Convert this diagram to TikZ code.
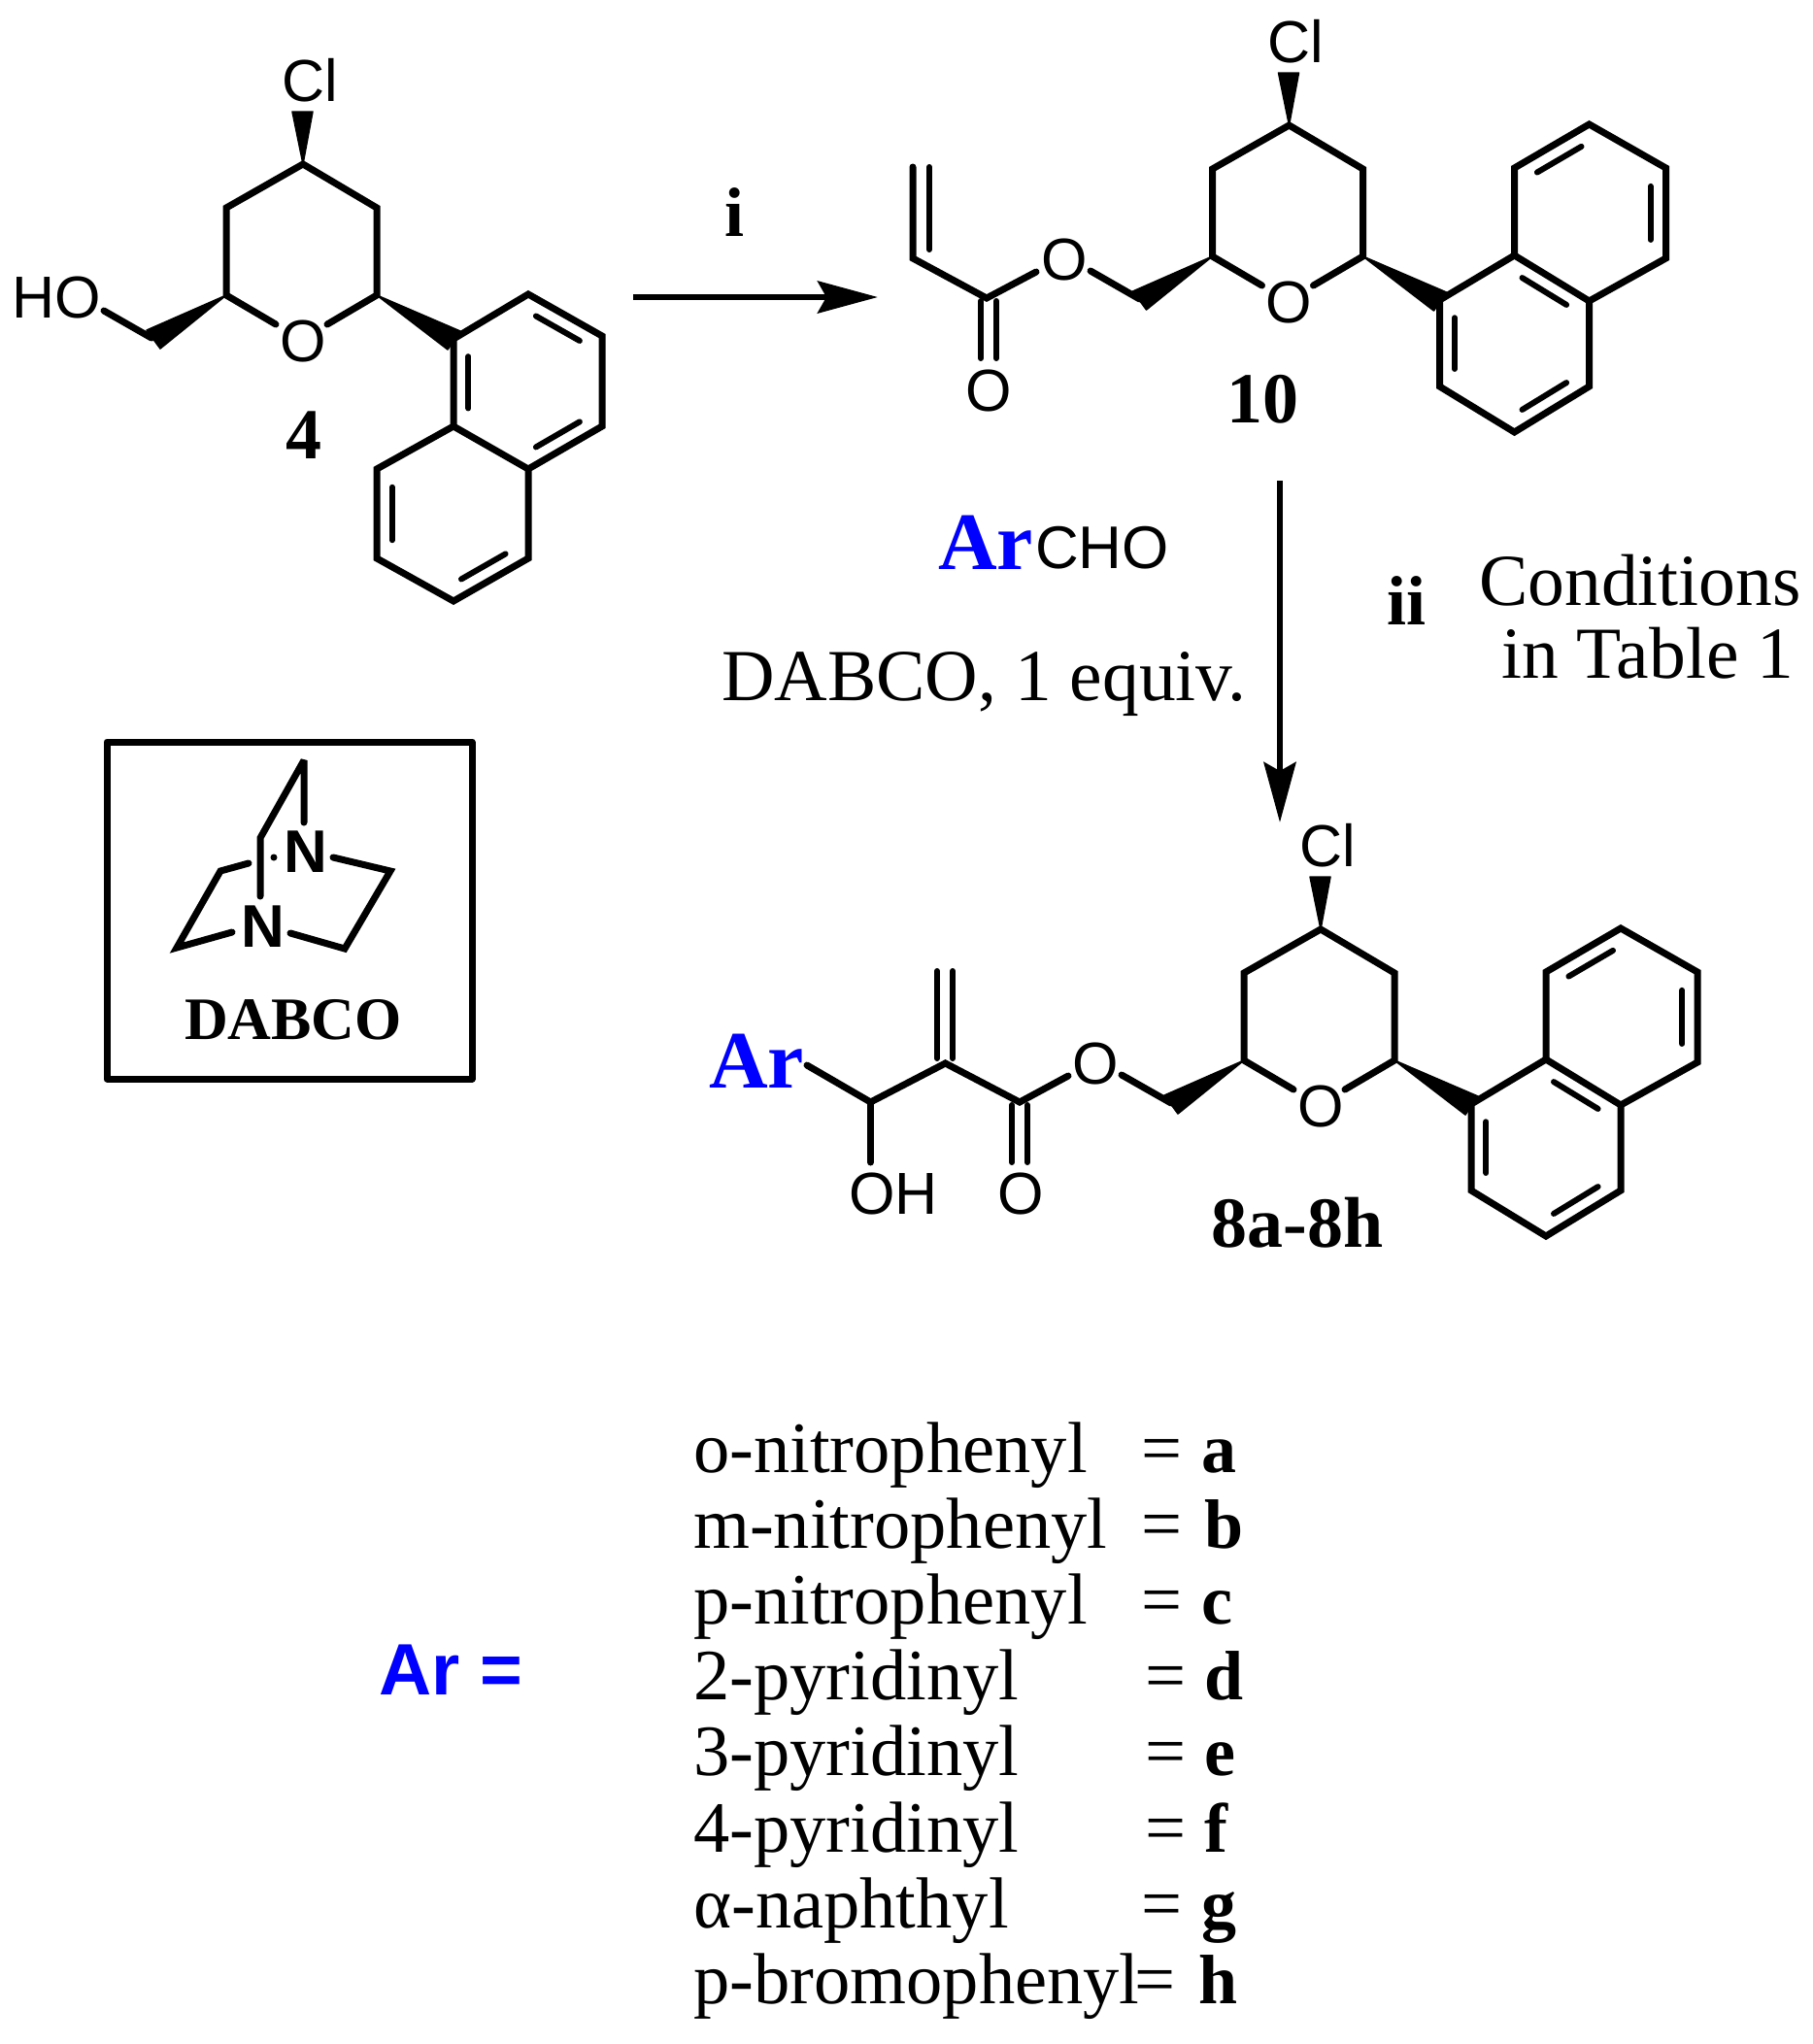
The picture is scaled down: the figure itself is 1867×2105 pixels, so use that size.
\documentclass[tikz,border=0pt]{standalone}
\usepackage{fontspec}
\setmainfont{Liberation Serif}
\setsansfont{Liberation Sans}
\usetikzlibrary{calc,arrows.meta}
\newcommand{\fs}[1]{\fontsize{#1}{#1}\selectfont}
\tikzset{
  bond/.style={line width=7pt,line cap=round,line join=miter,miter limit=3},
  thinbond/.style={line width=6pt,line cap=round},
  wedge/.style={fill=black,draw=black,line width=1.5pt,line join=round},
  atom/.style={inner sep=0pt,font=\sffamily\fs{61}},
  bbl/.style={inner sep=0pt,font=\bfseries\fs{74}},
  listt/.style={inner sep=0pt,anchor=base west,font=\fs{74.5}},
  listb/.style={inner sep=0pt,anchor=base west,font=\bfseries\fs{72}},
  arr/.style={line width=6.5pt,-{Stealth[length=62pt,width=33pt,inset=9pt]}},
  cond/.style={inner sep=0pt,anchor=base west,font=\fs{75.5}},
}
% inner line of a double bond: from a to b, moved toward ring centre c
\newcommand{\inb}[3]{\draw[thinbond] ($(#1)!0.13!(#2)!0.2!(#3)$) -- ($(#2)!0.13!(#1)!0.2!(#3)$);}
% tetrahydropyran ring with Cl, in local coordinates of compound 4
\newcommand{\pyran}[1]{%
  \coordinate (#1T) at (312,169);
  \coordinate (#1A) at (233,214);
  \coordinate (#1B) at (388,214);
  \coordinate (#1C) at (233,304);
  \coordinate (#1D) at (388,304);
  \coordinate (#1e) at (284,334);
  \coordinate (#1f) at (337,334);
  \node[atom] (#1Cl) at (319,83) {Cl};
  \node[atom] (#1O) at (312,351) {O};
  \draw[bond] (#1e) -- (#1C) -- (#1A) -- (#1T) -- (#1B) -- (#1D) -- (#1f);
  \fill[wedge] (#1T) -- (301,115) -- (322,115) -- cycle;
}
\begin{document}
\begin{tikzpicture}[x=1pt,y=-1pt]
\useasboundingbox (0,0) rectangle (1867,2105);
%% ---------- compound 4
\pyran{a}
\coordinate (aH) at (156,348);
\node[atom] (aHO) at (58,306) {HO};
\coordinate (aHe) at (107,320);
\draw[bond] (aHe) -- (aH);
\fill[wedge] (aC) -- (151,340) -- (165,359) -- cycle;
\coordinate (n1) at (467,349);
\coordinate (n2) at (544,303);
\coordinate (n3) at (620,346);
\coordinate (n4) at (620,439);
\coordinate (n4a) at (544,483);
\coordinate (n8a) at (467,439);
\coordinate (n8) at (388,483);
\coordinate (n7) at (388,575);
\coordinate (n6) at (467,619);
\coordinate (n5) at (544,575);
\coordinate (nc1) at (544,393);
\coordinate (nc2) at (467,529);
\draw[bond] (n8a) -- (n1) -- (n2) -- (n3) -- (n4) -- (n4a) -- (n8a) -- (n8) -- (n7) -- (n6) -- (n5) -- (n4a);
\inb{n1}{n8a}{nc1}
\inb{n2}{n3}{nc1}
\inb{n4}{n4a}{nc1}
\inb{n8}{n7}{nc2}
\inb{n6}{n5}{nc2}
\fill[wedge] (aD) -- (474,341) -- (461,360) -- cycle;
\node[bbl] (lab4) at (313,448) {4};
%% ---------- shared ring + naphthyl for 10 and 8
\foreach \p/\dx/\dy in {b/1015.5/-40,c/1048/788}{
\begin{scope}[shift={(\dx,\dy)}]
\pyran{\p}
\coordinate (\p1) at (467,349);
\coordinate (\p2) at (467,438);
\coordinate (\p3) at (544,485);
\coordinate (\p4) at (621,438);
\coordinate (\p4a) at (621,350);
\coordinate (\p8a) at (544,303);
\coordinate (\p8) at (544,213);
\coordinate (\p7) at (621,168);
\coordinate (\p6) at (700,213);
\coordinate (\p5) at (700,306);
\coordinate (\p c1) at (544,394);
\coordinate (\p c2) at (621,259);
\draw[bond] (\p1) -- (\p2) -- (\p3) -- (\p4) -- (\p4a) -- (\p8a) -- (\p1);
\draw[bond] (\p8a) -- (\p8) -- (\p7) -- (\p6) -- (\p5) -- (\p4a);
\inb{\p1}{\p2}{\p c1}
\inb{\p3}{\p4}{\p c1}
\inb{\p4a}{\p8a}{\p c1}
\inb{\p8}{\p7}{\p c2}
\inb{\p6}{\p5}{\p c2}
\fill[wedge] (\p D) -- (474,341) -- (461,360) -- cycle;
\coordinate (\p H) at (158,348);
\fill[wedge] (\p C) -- (151,340) -- (165,359) -- cycle;
\end{scope}
}
%% ---------- compound 10 side chain
\node[atom] (bOe) at (1096,267) {O};
\node[atom] (bOc) at (1018.5,402) {O};
\coordinate (bCc) at (1016,307);
\coordinate (bVi) at (940,266);
\coordinate (bVe) at (940,172);
\coordinate (bVi2) at (957,257);
\coordinate (bVe2) at (957,172);
\coordinate (bOa) at (1067,280);
\coordinate (bOb) at (1123,279);
\draw[bond] (bVe) -- (bVi) -- (bCc) -- (bOa);
\draw[thinbond] (bVe2) -- (bVi2);
\draw[bond] (bOb) -- (bH);
\coordinate (bc1) at (1010,310); \coordinate (bc2) at (1010,369);
\coordinate (bc3) at (1026,310); \coordinate (bc4) at (1026,369);
\draw[thinbond] (bc1) -- (bc2) (bc3) -- (bc4);
\node[bbl] (lab10) at (1300,411) {10};
%% ---------- compound 8 side chain
\node[atom] (cOe) at (1128,1095) {O};
\node[atom] (cOc) at (1051,1229) {O};
\node[atom] (cOH) at (920,1229) {OH};
\node[inner sep=0pt,text=blue,font=\bfseries\fs{84}] (cAr) at (779,1093) {Ar};
\coordinate (cAre) at (831,1097);
\coordinate (cCH) at (896.5,1135);
\coordinate (cOHe) at (896.5,1197);
\coordinate (cVi) at (973.5,1095);
\coordinate (cCc) at (1050,1135);
\coordinate (cOa) at (1100,1108);
\coordinate (cOb) at (1155,1107);
\draw[bond] (cAre) -- (cCH) -- (cVi) -- (cCc) -- (cOa);
\draw[bond] (cCH) -- (cOHe);
\draw[bond] (cOb) -- (cH);
\coordinate (cv1) at (965,1090); \coordinate (cv2) at (965,1000);
\coordinate (cv3) at (981,1090); \coordinate (cv4) at (981,1000);
\draw[thinbond] (cv1) -- (cv2) (cv3) -- (cv4);
\coordinate (cc1) at (1042,1138); \coordinate (cc2) at (1042,1197);
\coordinate (cc3) at (1058,1138); \coordinate (cc4) at (1058,1197);
\draw[thinbond] (cc1) -- (cc2) (cc3) -- (cc4);
\node[bbl] (lab8) at (1336,1259) {8a-8h};
%% ---------- arrows and conditions
\coordinate (ar1s) at (652,306); \coordinate (ar1e) at (904,306);
\draw[arr] (ar1s) -- (ar1e);
\node[inner sep=0pt,anchor=base,font=\bfseries\fs{72}] (li) at (756,243) {i};
\coordinate (ar2s) at (1318,495); \coordinate (ar2e) at (1318,847);
\draw[arr] (ar2s) -- (ar2e);
\node[inner sep=0pt,anchor=base west,text=blue,font=\bfseries\fs{84}] (ArA) at (966,586) {Ar};
\node[inner sep=0pt,anchor=base west,font=\sffamily\fs{62}] (CHO) at (1066,585) {CHO};
\node[cond] (dab) at (743,721) {DABCO, 1 equiv.};
\node[inner sep=0pt,anchor=base west,font=\bfseries\fs{72}] (lii) at (1428,643) {ii};
\node[cond] (cond1) at (1523,623) {Conditions};
\node[cond] (cond2) at (1546,698) {in Table 1};
%% ---------- DABCO box
\node[draw,line width=7pt,line join=round,minimum width=376pt,minimum height=347pt,inner sep=0pt] (box) at (298,937.5) {};
\node[inner sep=0pt,font=\sffamily\bfseries\fs{62}] (N1) at (315,877) {N};
\node[inner sep=0pt,font=\sffamily\bfseries\fs{62}] (N2) at (271,954) {N};
\node[inner sep=0pt,font=\bfseries\fs{62}] (dlab) at (302,1050) {DABCO};
\coordinate (d1) at (313,847); \coordinate (d2) at (313,783);
\coordinate (d3) at (268,863); \coordinate (d4) at (268,923);
\coordinate (d5) at (343,883); \coordinate (d6) at (402,897);
\coordinate (d7) at (355,977); \coordinate (d8) at (299,961);
\coordinate (d9) at (256,889); \coordinate (d10) at (227,897);
\coordinate (d11) at (182,976); \coordinate (d12) at (239,960);
\draw[bond] (d1) -- (d2) -- (d3) -- (d4);
\draw[bond] (d5) -- (d6) -- (d7) -- (d8);
\draw[bond] (d9) -- (d10) -- (d11) -- (d12);
\fill (282,883) circle (3.5pt);
%% ---------- legend
\node[inner sep=0pt,text=blue,anchor=base west,font=\sffamily\bfseries\fs{75}] (ArEq) at (390,1745) {Ar =};
\foreach \i/\t/\ex/\l/\lx/\y in {
 1/o-nitrophenyl/1175/a/1237/1516,
 2/m-nitrophenyl/1175/b/1240/1594.2,
 3/p-nitrophenyl/1175/c/1237/1672.4,
 4/2-pyridinyl/1179/d/1240/1750.6,
 5/3-pyridinyl/1179/e/1240/1828.8,
 6/4-pyridinyl/1179/f/1240/1907,
 7/α-naphthyl/1175/g/1237/1985.2,
 8/p-bromophenyl/1168/h/1234/2063.4}{
  \node[listt] (lt\i) at (714,\y) {\t};
  \node[listt] (le\i) at (\ex,\y) {=};
  \node[listb] (ll\i) at (\lx,\y) {\l};
}
\end{tikzpicture}
\end{document}
